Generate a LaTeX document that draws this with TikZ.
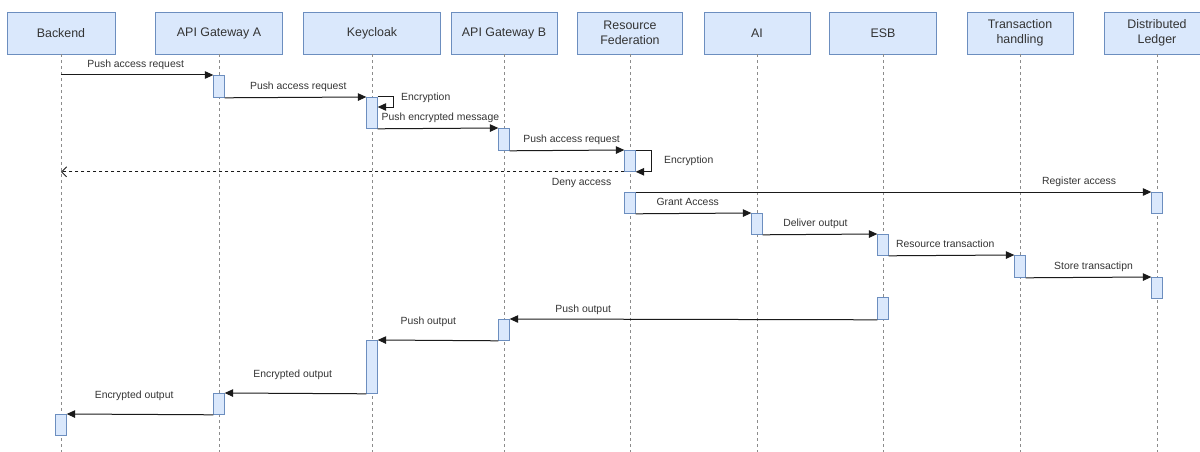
\documentclass[tikz,border=0pt]{standalone}
\usepackage{fontspec}
\setmainfont{Liberation Sans}
\usetikzlibrary{arrows.meta,calc}

\definecolor{boxfill}{HTML}{DAE8FC}
\definecolor{boxline}{HTML}{6C8EBF}
\definecolor{txt}{HTML}{333333}
\definecolor{wire}{HTML}{1A1A1A}
\definecolor{lifegray}{HTML}{8C8C8C}

\tikzset{
  head/.style={draw=boxline, fill=boxfill, line width=0.9pt, minimum height=42pt,
               align=center, text=txt, font=\fontsize{12.4}{15}\selectfont, inner sep=2pt},
  life/.style={draw=lifegray, line width=0.8pt, dash pattern=on 3pt off 3pt},
  act/.style={draw=boxline, fill=boxfill, line width=0.8pt, minimum width=10.5pt,
              inner sep=0pt, anchor=north},
  msg/.style={draw=wire, line width=1pt, -{Triangle[length=8.5pt,width=7.5pt]}},
  reply/.style={draw=wire, line width=0.9pt, dash pattern=on 3pt off 3pt,
                -{Straight Barb[length=5pt,width=10pt,line width=0.9pt]}},
  lbl/.style={text=txt, font=\fontsize{10.4}{12}\selectfont, inner sep=0pt, anchor=base},
}

\begin{document}
\begin{tikzpicture}[x=1pt,y=-1pt]
  \useasboundingbox (0,0) rectangle (1200,452);
  \coordinate (bottom) at (0,452);

  % participants
  \node[head, minimum width=108pt] (hB)  at (61,33)   {Backend};
  \node[head, minimum width=127pt] (hA)  at (219,33)  {API Gateway A};
  \node[head, minimum width=137pt] (hK)  at (372,33)  {Keycloak};
  \node[head, minimum width=106pt] (hG)  at (504,33)  {API Gateway B};
  \node[head, minimum width=105pt] (hR)  at (630,33)  {Resource\\Federation};
  \node[head, minimum width=106pt] (hI)  at (757,33)  {AI};
  \node[head, minimum width=107pt] (hE)  at (883,33)  {ESB};
  \node[head, minimum width=106pt] (hT)  at (1020,33) {Transaction\\handling};
  \node[head, minimum width=106pt] (hD)  at (1157,33) {Distributed\\Ledger};

  % lifelines
  \foreach \p in {hB,hA,hK,hG,hR,hI,hE,hT,hD}
    \draw[life] (\p.south) -- (\p.south |- bottom);

  % activation bars
  \node[act, minimum height=22pt] (a1) at (219,75)  {};
  \node[act, minimum height=31pt] (k1) at (372,97)  {};
  \node[act, minimum height=22pt] (b1) at (504,128) {};
  \node[act, minimum height=21pt] (r1) at (630,150) {};
  \node[act, minimum height=21pt] (r2) at (630,192) {};
  \node[act, minimum height=21pt] (d1) at (1157,192) {};
  \node[act, minimum height=21pt] (i1) at (757,213) {};
  \node[act, minimum height=21pt] (e1) at (883,234) {};
  \node[act, minimum height=22pt] (t1) at (1020,255) {};
  \node[act, minimum height=21pt] (d2) at (1157,277) {};
  \node[act, minimum height=22pt] (e2) at (883,297) {};
  \node[act, minimum height=21pt] (b2) at (504,319) {};
  \node[act, minimum height=53pt] (k2) at (372,340) {};
  \node[act, minimum height=21pt] (a2) at (219,393) {};
  \node[act, minimum height=21pt] (k0) at (61,414)  {};

  % request path
  \draw[msg] (hB |- a1.north west) -- node[lbl, pos=0.49, yshift=8pt] {Push access request} (a1.north west);
  \draw[msg] (a1.south east) -- node[lbl, pos=0.52, yshift=8pt] {Push access request} (k1.north west);
  \draw[msg] (k1.north east) -- ++(16,0)
        node[lbl, anchor=base west, xshift=7pt, yshift=-3pt] {Encryption}
        |- ($(k1.north east)+(0,10)$);
  \draw[msg] (k1.south east) -- node[lbl, pos=0.52, yshift=8pt] {Push encrypted message} (b1.north west);
  \draw[msg] (b1.south east) -- node[lbl, pos=0.54, yshift=8pt] {Push access request} (r1.north west);
  \draw[msg] (r1.north east) -- ++(16,0)
        node[lbl, anchor=base west, xshift=12pt, yshift=-13pt] {Encryption}
        |- (r1.south east);
  \draw[reply] (r1.south west) -- node[lbl, pos=0.076, yshift=-14pt] {Deny access} (hB |- r1.south west);

  % granted path
  \draw[msg] (r2.north east) -- node[lbl, pos=0.86, yshift=8pt] {Register access} (d1.north west);
  \draw[msg] (r2.south east) -- node[lbl, pos=0.45, yshift=8pt] {Grant Access} (i1.north west);
  \draw[msg] (i1.south east) -- node[lbl, pos=0.46, yshift=8pt] {Deliver output} (e1.north west);
  \draw[msg] (e1.south east) -- node[lbl, pos=0.45, yshift=8pt] {Resource transaction} (t1.north west);
  \draw[msg] (t1.south east) -- node[lbl, pos=0.54, yshift=8pt] {Store transactipn} (d2.north west);

  % output path
  \draw[msg] (e2.south west) -- node[lbl, pos=0.80, yshift=7pt] {Push output} (b2.north east);
  \draw[msg] (b2.south west) -- node[lbl, pos=0.58, yshift=15.5pt] {Push output} (k2.north east);
  \draw[msg] (k2.south west) -- node[lbl, pos=0.52, yshift=16pt] {Encrypted output} (a2.north east);
  \draw[msg] (a2.south west) -- node[lbl, pos=0.54, yshift=15.5pt] {Encrypted output} (k0.north east);
\end{tikzpicture}
\end{document}
